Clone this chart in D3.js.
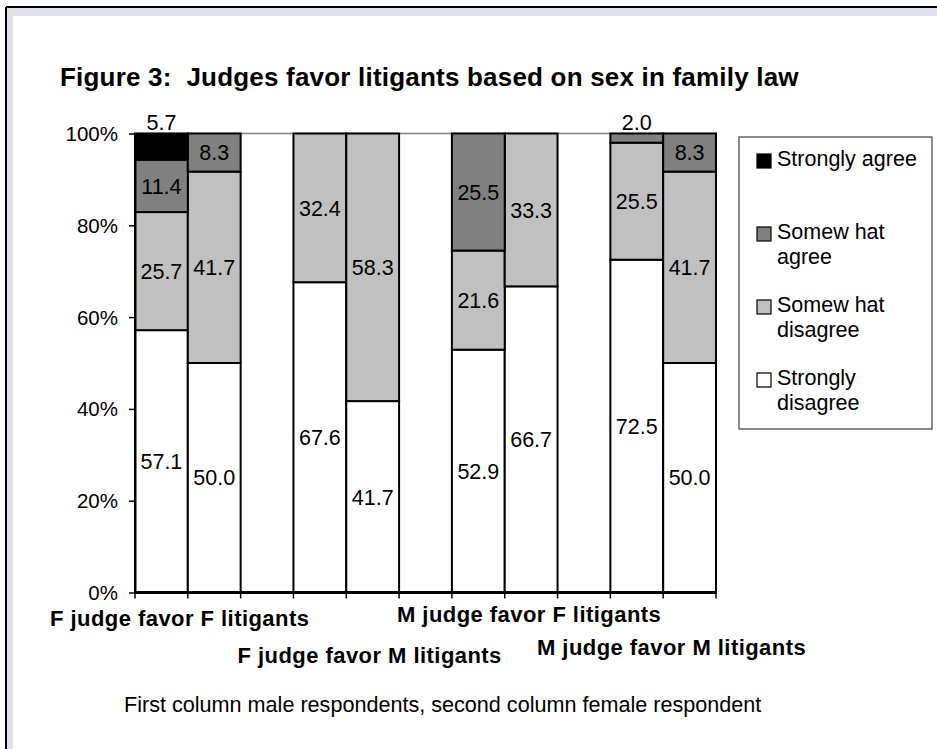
<!DOCTYPE html>
<html>
<head>
<meta charset="utf-8">
<script src="https://cdn.jsdelivr.net/npm/d3@7"></script>
<style>
  body { margin: 0; background: #fff; }
  svg { display: block; font-family: "Liberation Sans", Arial, sans-serif; }
</style>
</head>
<body>
<svg id="chart"></svg>
<script>
// data
const groups = ["F judge favor F litigants", "F judge favor M litigants", "M judge favor F litigants", "M judge favor M litigants"];
const respondents = ["male", "female"];
const responses = ["Strongly disagree", "Somewhat disagree", "Somewhat agree", "Strongly agree"];
const legendLines = [["Strongly agree"], ["Somew hat", "agree"], ["Somew hat", "disagree"], ["Strongly", "disagree"]];
// bar order: FF-m, FF-f, FM-m, FM-f, MF-m, MF-f, MM-m, MM-f
const stronglyDisagree = [57.1, 50.0, 67.6, 41.7, 52.9, 66.7, 72.5, 50.0];
const somewhatDisagree = [25.7, 41.7, 32.4, 58.3, 21.6, 33.3, 25.5, 41.7];
const somewhatAgree = [11.4, 8.3, 0, 0, 25.5, 0, 2.0, 8.3];
const stronglyAgree = [5.7, 0, 0, 0, 0, 0, 0, 0];
const yTicks = [0, 0.2, 0.4, 0.6, 0.8, 1];
const footnote = "First column male respondents, second column female respondent";
const title = "Figure 3:  Judges favor litigants based on sex in family law";

const width = 937, height = 749;
const svg = d3.select("#chart").attr("width", width).attr("height", height);

const fills = d3.scaleOrdinal().domain(responses).range(["#ffffff", "#c0c0c0", "#808080", "#000000"]);

// window frame (top / left only)
svg.append("rect").attr("x", 6).attr("y", 7).attr("width", width).attr("height", height).attr("fill", "#e1e1ec");
svg.append("rect").attr("x", 13).attr("y", 16).attr("width", width).attr("height", height).attr("fill", "#fff");
svg.append("line").attr("x1", 6).attr("x2", width).attr("y1", 7).attr("y2", 7).attr("stroke", "#000").attr("stroke-width", 2);
svg.append("line").attr("x1", 6).attr("x2", 6).attr("y1", 7).attr("y2", height).attr("stroke", "#000").attr("stroke-width", 2);

// title
svg.append("text")
  .attr("x", 60).attr("y", 86)
  .attr("font-size", 26).attr("font-weight", "bold")
  .attr("letter-spacing", 0.2)
  .style("white-space", "pre")
  .text(title);

// rows, one per bar
const rows = [];
groups.forEach((g, gi) => {
  respondents.forEach((r, ri) => {
    const k = gi * 2 + ri;
    rows.push({
      key: gi + "-" + r,
      group: g,
      "Strongly disagree": stronglyDisagree[k],
      "Somewhat disagree": somewhatDisagree[k],
      "Somewhat agree": somewhatAgree[k],
      "Strongly agree": stronglyAgree[k]
    });
  });
});

// slots incl. blank categories between groups
const slots = [];
groups.forEach((g, gi) => {
  respondents.forEach(r => slots.push(gi + "-" + r));
  if (gi < groups.length - 1) slots.push(gi + "-gap");
});

const x = d3.scaleBand().domain(slots).range([135, 716]).padding(0);
const y = d3.scaleLinear().domain([0, 1]).range([592.5, 133.5]);

const stack = d3.stack().keys(responses).offset(d3.stackOffsetExpand);
const series = stack(rows);

// top line of plot area
svg.append("line")
  .attr("x1", x.range()[0]).attr("x2", x.range()[1])
  .attr("y1", y(1)).attr("y2", y(1))
  .attr("stroke", "#808080").attr("stroke-width", 1.5);

const layers = svg.append("g").selectAll("g")
  .data(series)
  .join("g")
  .attr("fill", d => fills(d.key));

layers.selectAll("rect")
  .data(d => d.filter(s => s[1] - s[0] > 0).map(s => ({s, key: d.key})))
  .join("rect")
  .attr("x", d => x(d.s.data.key))
  .attr("width", x.bandwidth())
  .attr("y", d => y(d.s[1]))
  .attr("height", d => y(d.s[0]) - y(d.s[1]))
  .attr("stroke", "#000")
  .attr("stroke-width", 2);

// value labels
const labels = svg.append("g").attr("font-size", 21.5).attr("text-anchor", "middle").attr("fill", "#000");
series.forEach(layer => {
  layer.forEach(s => {
    const v = s.data[layer.key];
    if (!(v > 0)) return;
    const y0 = y(s[0]), y1 = y(s[1]);
    const cx = x(s.data.key) + x.bandwidth() / 2;
    const small = (y0 - y1) < 30;
    labels.append("text")
      .attr("x", cx)
      .attr("y", small ? y(1) - 4 : (y0 + y1) / 2)
      .attr("dy", small ? 0 : "0.36em")
      .text(d3.format(".1f")(v));
  });
});

// y axis
const yAxis = svg.append("g")
  .attr("transform", `translate(${x.range()[0]},0)`)
  .call(d3.axisLeft(y).tickValues(yTicks).tickFormat(d3.format(".0%")).tickSize(6).tickSizeOuter(0).tickPadding(11));
yAxis.select(".domain").attr("stroke", "#000").attr("stroke-width", 2);
yAxis.selectAll(".tick line").attr("stroke", "#000").attr("stroke-width", 1.5);
yAxis.selectAll(".tick text").attr("font-size", 20.5).attr("font-family", "Liberation Sans, Arial, sans-serif").attr("fill", "#000").attr("dy", "0.34em");

// x axis
const xAxis = svg.append("g");
xAxis.append("line")
  .attr("x1", x.range()[0]).attr("x2", x.range()[1])
  .attr("y1", y(0)).attr("y2", y(0))
  .attr("stroke", "#000").attr("stroke-width", 3);
const tickXs = slots.map(s => x(s)).concat([x.range()[1]]);
xAxis.selectAll("line.tk")
  .data(tickXs)
  .join("line")
  .attr("class", "tk")
  .attr("x1", d => d).attr("x2", d => d)
  .attr("y1", y(0)).attr("y2", y(0) + 6)
  .attr("stroke", "#000").attr("stroke-width", 1.5);

// category labels (staggered, as in the original)
const catDx = [-34.5, -3, -2, -18];
const catY = [626, 663, 622, 655];
svg.append("g")
  .selectAll("text")
  .data(groups)
  .join("text")
  .attr("x", (d, i) => x(i + "-female") + x.bandwidth() / 2 + catDx[i])
  .attr("y", (d, i) => catY[i])
  .attr("text-anchor", "middle")
  .attr("font-size", 22).attr("font-weight", "bold")
  .attr("letter-spacing", 0.45)
  .text(d => d);

// footnote
svg.append("text")
  .attr("x", 124).attr("y", 712)
  .attr("font-size", 21.6)
  .text(footnote);

// legend
const legend = svg.append("g").attr("transform", "translate(739,137)");
legend.append("rect")
  .attr("width", 193).attr("height", 292)
  .attr("fill", "#fff").attr("stroke", "#404040").attr("stroke-width", 1.2);
const legendOrder = responses.slice().reverse();
const items = legend.selectAll("g.item")
  .data(legendOrder)
  .join("g")
  .attr("class", "item")
  .attr("transform", (d, i) => `translate(18,${17 + i * 73})`);
items.append("rect")
  .attr("width", 14).attr("height", 14)
  .attr("fill", d => fills(d))
  .attr("stroke", "#000").attr("stroke-width", 1.2);
items.each(function(d, i) {
  const t = d3.select(this).append("text")
    .attr("x", 20).attr("y", 12)
    .attr("font-size", 21.5);
  legendLines[i].forEach((ln, j) => {
    t.append("tspan").attr("x", 20).attr("dy", j === 0 ? 0 : 25).text(ln);
  });
});
</script>
</body>
</html>
